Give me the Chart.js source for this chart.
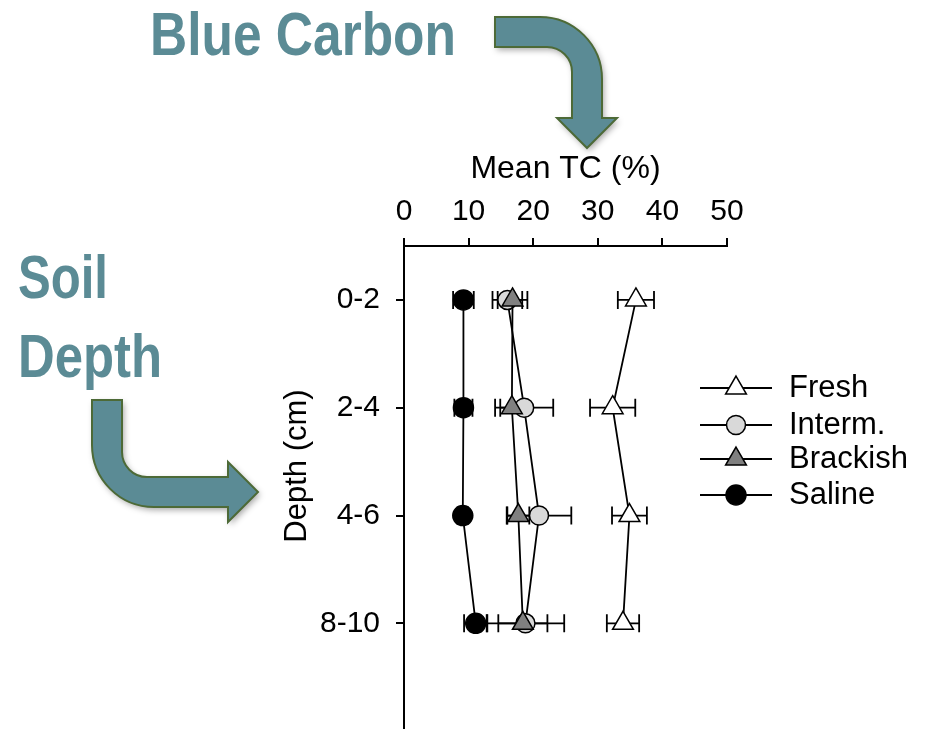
<!DOCTYPE html>
<html>
<head>
<meta charset="utf-8">
<script src="https://cdn.jsdelivr.net/npm/chart.js@4/dist/chart.umd.min.js"></script>
<style>
  html, body { margin: 0; padding: 0; background: #fff; overflow: hidden; }
  #wrap { position: relative; width: 925px; height: 729px; }
  canvas { display: block; }
</style>
</head>
<body>
<div id="wrap"><canvas id="c" width="925" height="729"></canvas></div>
<script>
// ---- data ----
const depthCategories = ['0-2', '2-4', '4-6', '8-10'];
const xTickValues = [0, 10, 20, 30, 40, 50];
const seriesNames = ['Fresh', 'Interm.', 'Brackish', 'Saline'];

const freshTC     = [35.9, 32.3, 34.9, 33.9];
const freshErr    = [2.8, 3.5, 2.7, 2.5];
const intermTC    = [16.0, 18.6, 20.9, 18.8];
const intermErr   = [2.3, 4.5, 5.0, 6.0];
const brackishTC  = [16.8, 16.7, 17.7, 18.4];
const brackishErr = [2.3, 1.8, 1.7, 3.8];
const salineTC    = [9.2, 9.2, 9.1, 11.1];
const salineErr   = [1.6, 1.4, 0.8, 1.8];

const xTitle = 'Mean TC (%)';
const yTitle = 'Depth (cm)';

// ---- styling ----
const FONT = "'Liberation Sans', Arial, sans-serif";
const TEAL = '#5b8b95';
const OUTLINE = '#4d6a37';

function pts(vals) { return vals.map((v, i) => ({ x: v, y: i + 1 })); }

const styles = [
  { fill: '#ffffff', style: 'triangle', r: 12, order: 1 },
  { fill: '#d9d9d9', style: 'circle', r: 9.5, order: 3 },
  { fill: '#808080', style: 'triangle', r: 12, order: 2 },
  { fill: '#000000', style: 'circle', r: 10, order: 4 }
];
const allVals = [freshTC, intermTC, brackishTC, salineTC];
const allErrs = [freshErr, intermErr, brackishErr, salineErr];

const datasets = seriesNames.map((n, k) => ({
  label: n,
  data: pts(allVals[k]),
  errors: allErrs[k],
  showLine: true,
  borderColor: '#000',
  borderWidth: 1.8,
  pointStyle: styles[k].style,
  pointRadius: styles[k].r,
  pointBackgroundColor: styles[k].fill,
  pointBorderColor: '#000',
  pointBorderWidth: 1.5,
  order: styles[k].order,
  clip: false
}));

// ---- plugins ----
const errorBars = {
  id: 'errorBars',
  beforeDatasetsDraw(chart) {
    const { ctx, scales: { x, y } } = chart;
    ctx.save();
    ctx.strokeStyle = '#000';
    ctx.lineWidth = 1.8;
    chart.data.datasets.forEach(ds => {
      ds.data.forEach((p, i) => {
        const e = ds.errors[i];
        const yp = y.getPixelForValue(p.y);
        const x1 = x.getPixelForValue(p.x - e);
        const x2 = x.getPixelForValue(p.x + e);
        ctx.beginPath();
        ctx.moveTo(x1, yp); ctx.lineTo(x2, yp);
        ctx.moveTo(x1, yp - 9); ctx.lineTo(x1, yp + 9);
        ctx.moveTo(x2, yp - 9); ctx.lineTo(x2, yp + 9);
        ctx.stroke();
      });
    });
    ctx.restore();
  }
};

function drawMarker(ctx, style, r, x, y, fill) {
  ctx.beginPath();
  if (style === 'circle') {
    ctx.arc(x, y, r, 0, Math.PI * 2);
  } else {
    let a = 0;
    ctx.moveTo(x + Math.sin(a) * r, y - Math.cos(a) * r);
    a += 2 * Math.PI / 3;
    ctx.lineTo(x + Math.sin(a) * r, y - Math.cos(a) * r);
    a += 2 * Math.PI / 3;
    ctx.lineTo(x + Math.sin(a) * r, y - Math.cos(a) * r);
    ctx.closePath();
  }
  ctx.fillStyle = fill;
  ctx.fill();
  ctx.lineWidth = 1.5;
  ctx.strokeStyle = '#000';
  ctx.stroke();
}

const customLegend = {
  id: 'customLegend',
  afterDraw(chart) {
    const ctx = chart.ctx;
    const rows = [388, 425, 459, 495];
    ctx.save();
    chart.data.datasets.forEach((ds, k) => {
      const yy = rows[k];
      ctx.beginPath();
      ctx.strokeStyle = '#000';
      ctx.lineWidth = 1.8;
      ctx.moveTo(700, yy); ctx.lineTo(772, yy);
      ctx.stroke();
      drawMarker(ctx, styles[k].style, styles[k].r, 736, yy, styles[k].fill);
      ctx.fillStyle = '#000';
      ctx.font = '31px ' + FONT;
      ctx.textAlign = 'left';
      ctx.textBaseline = 'middle';
      ctx.fillText(ds.label, 789, yy);
    });
    // y axis title
    ctx.translate(297, 466);
    ctx.rotate(-Math.PI / 2);
    ctx.textAlign = 'center';
    ctx.textBaseline = 'middle';
    ctx.font = '31px ' + FONT;
    ctx.fillStyle = '#000';
    ctx.fillText(yTitle, 0, 0);
    ctx.restore();
  }
};

function fitText(ctx, text, x, baseline, width) {
  ctx.save();
  ctx.font = 'bold 62px ' + FONT;
  const w = ctx.measureText(text).width;
  ctx.translate(x, baseline);
  ctx.scale(width / w, 1);
  ctx.fillStyle = TEAL;
  ctx.textAlign = 'left';
  ctx.textBaseline = 'alphabetic';
  ctx.fillText(text, 0, 0);
  ctx.restore();
}

function arrowStyle(ctx) {
  ctx.fillStyle = TEAL;
  ctx.strokeStyle = OUTLINE;
  ctx.lineWidth = 2;
  ctx.shadowColor = 'rgba(0,0,0,0.35)';
  ctx.shadowBlur = 6;
  ctx.shadowOffsetX = 2;
  ctx.shadowOffsetY = 3;
}

const decorations = {
  id: 'decorations',
  afterDraw(chart) {
    const ctx = chart.ctx;
    fitText(ctx, 'Blue Carbon', 150, 55, 306);
    fitText(ctx, 'Soil', 18, 298, 90);
    fitText(ctx, 'Depth', 18, 377, 144);

    // Top arrow
    ctx.save();
    arrowStyle(ctx);
    ctx.beginPath();
    ctx.moveTo(495, 17);
    ctx.lineTo(540, 17);
    ctx.arc(540, 79, 62, -Math.PI / 2, 0, false);
    ctx.lineTo(602, 118);
    ctx.lineTo(617, 118);
    ctx.lineTo(587, 148);
    ctx.lineTo(557, 118);
    ctx.lineTo(572, 118);
    ctx.lineTo(572, 72);
    ctx.arc(547, 72, 25, 0, -Math.PI / 2, true);
    ctx.lineTo(495, 47);
    ctx.closePath();
    ctx.fill();
    ctx.shadowColor = 'transparent';
    ctx.stroke();
    ctx.restore();

    // Left arrow
    ctx.save();
    arrowStyle(ctx);
    ctx.beginPath();
    ctx.moveTo(92, 400);
    ctx.lineTo(92, 445);
    ctx.arc(154, 445, 62, Math.PI, Math.PI / 2, true);
    ctx.lineTo(228, 507);
    ctx.lineTo(228, 522);
    ctx.lineTo(258, 492);
    ctx.lineTo(228, 462);
    ctx.lineTo(228, 477);
    ctx.lineTo(147, 477);
    ctx.arc(147, 452, 25, Math.PI / 2, Math.PI, false);
    ctx.lineTo(122, 400);
    ctx.closePath();
    ctx.fill();
    ctx.shadowColor = 'transparent';
    ctx.stroke();
    ctx.restore();
  }
};

// ---- chart ----
new Chart(document.getElementById('c'), {
  type: 'scatter',
  data: { datasets },
  options: {
    responsive: false,
    animation: false,
    events: [],
    layout: { autoPadding: false, padding: { left: 0, right: 198, top: 0, bottom: 0 } },
    plugins: { legend: { display: false }, tooltip: { enabled: false } },
    scales: {
      x: {
        type: 'linear',
        position: 'top',
        min: 0,
        max: 50,
        afterBuildTicks(s) { s.ticks = xTickValues.map(v => ({ value: v })); },
        ticks: { color: '#000', font: { family: FONT, size: 30 }, padding: 8, maxRotation: 0 },
        grid: { display: true, drawOnChartArea: false, drawTicks: true, tickLength: 8, color: '#000', lineWidth: 2 },
        border: { display: true, color: '#000', width: 2 },
        title: { display: true, text: xTitle, color: '#000', font: { family: FONT, size: 32 }, padding: { top: 150, bottom: 0 } },
        afterFit(s) { s.height = 246; s.paddingLeft = 0; s.paddingRight = 0; }
      },
      y: {
        type: 'linear',
        position: 'left',
        reverse: true,
        min: 0.5,
        max: 4.98,
        afterBuildTicks(s) { s.ticks = depthCategories.map((c, i) => ({ value: i + 1 })); },
        ticks: {
          color: '#000', font: { family: FONT, size: 30 }, padding: 16,
          autoSkip: false,
          callback: (v) => depthCategories[v - 1] || ''
        },
        grid: { display: true, drawOnChartArea: false, drawTicks: true, tickLength: 8, color: '#000', lineWidth: 2 },
        border: { display: true, color: '#000', width: 2 },
        title: { display: false },
        afterFit(s) { s.width = 404; s.paddingTop = 0; s.paddingBottom = 0; }
      }
    }
  },
  plugins: [errorBars, customLegend, decorations]
});
</script>
</body>
</html>
